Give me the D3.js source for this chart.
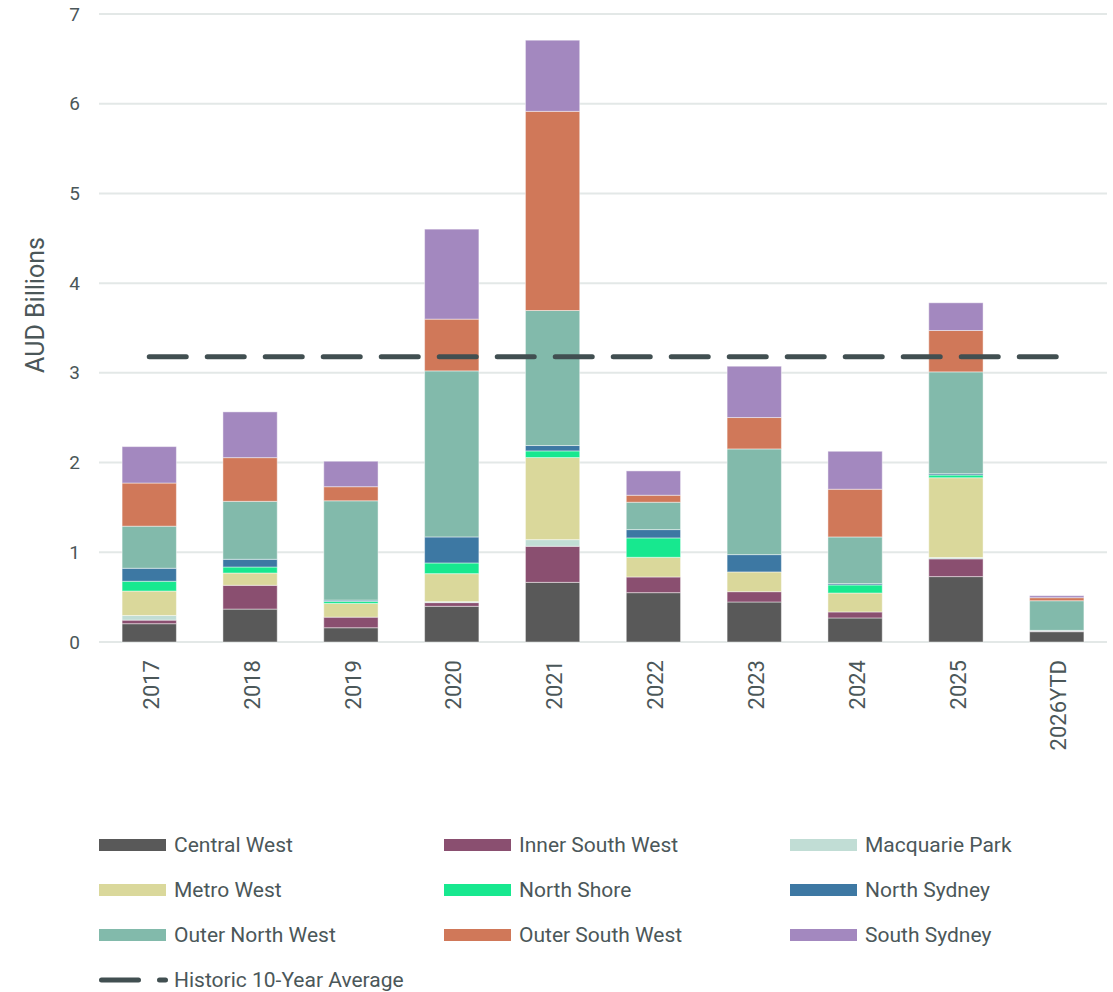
<!DOCTYPE html>
<html>
<head>
<meta charset="utf-8">
<script src="https://cdn.jsdelivr.net/npm/d3@7"></script>
<style>
  html, body { margin: 0; padding: 0; background: #fff; }
  svg { display: block; font-family: Roboto, "Noto Sans", sans-serif; }
</style>
</head>
<body>
<svg id="chart" width="1113" height="992"></svg>
<script>
const years = ["2017","2018","2019","2020","2021","2022","2023","2024","2025","2026YTD"];
const seriesNames = ["Central West","Inner South West","Macquarie Park","Metro West","North Shore","North Sydney","Outer North West","Outer South West","South Sydney"];
const seriesColors = ["#595959","#8a4f70","#c1ddd5","#dad89b","#17e88f","#3d78a3","#82baab","#d07859","#a388bf"];
const centralWest    = [0.204,0.367,0.159,0.398,0.665,0.550,0.446,0.268,0.729,0.115];
const innerSouthWest = [0.040,0.265,0.118,0.041,0.402,0.175,0.115,0.067,0.198,0.005];
const macquariePark  = [0.052,0.000,0.000,0.011,0.074,0.000,0.000,0.000,0.015,0.010];
const metroWest      = [0.272,0.137,0.153,0.312,0.915,0.219,0.220,0.211,0.889,0.000];
const northShore     = [0.109,0.067,0.023,0.119,0.074,0.216,0.000,0.090,0.030,0.000];
const northSydney    = [0.145,0.086,0.014,0.290,0.060,0.093,0.193,0.015,0.015,0.000];
const outerNorthWest = [0.469,0.646,1.107,1.851,1.505,0.305,1.178,0.520,1.135,0.330];
const outerSouthWest = [0.481,0.487,0.157,0.577,2.220,0.078,0.350,0.532,0.461,0.034];
const southSydney    = [0.406,0.510,0.284,1.003,0.793,0.271,0.572,0.423,0.309,0.022];
const historicAverage = 3.18;
const historicLabel = "Historic 10-Year Average";
const yTicks = [0,1,2,3,4,5,6,7];
const yTitle = "AUD Billions";

const seriesValues = [centralWest,innerSouthWest,macquariePark,metroWest,northShore,northSydney,outerNorthWest,outerSouthWest,southSydney];
const table = years.map((y, i) => {
  const row = { year: y };
  seriesNames.forEach((s, k) => row[s] = seriesValues[k][i]);
  return row;
});

const svg = d3.select("#chart");
const textColor = "#4b5759";
const lineColor = "#414f51";

const x = d3.scaleBand().domain(years).range([99, 1107]).paddingInner(0.4615).paddingOuter(0.229);
const y = d3.scaleLinear().domain([0, 7]).range([642, 14]);

// gridlines
svg.append("g").selectAll("line").data(yTicks).join("line")
  .attr("x1", 99).attr("x2", 1107)
  .attr("y1", d => y(d)).attr("y2", d => y(d))
  .attr("stroke", "#e3e8e7").attr("stroke-width", 2);

// y axis labels
const yAxis = d3.axisLeft(y).tickValues(yTicks).tickSize(0).tickPadding(0).tickFormat(d3.format("d"));
const yg = svg.append("g").attr("transform", "translate(80,0)").call(yAxis);
yg.select(".domain").remove();
yg.selectAll("text").attr("fill", textColor).style("font-size", "19px").style("font-family", "Roboto, sans-serif");

// y title
svg.append("text")
  .attr("transform", "translate(44,305) rotate(-90)")
  .attr("text-anchor", "middle")
  .attr("fill", textColor)
  .style("font-size", "25px")
  .text(yTitle);

// stacked bars
const stack = d3.stack().keys(seriesNames);
const stacked = stack(table);
svg.append("g").selectAll("g").data(stacked).join("g")
  .attr("fill", (d, i) => seriesColors[i])
  .selectAll("rect").data(d => d).join("rect")
  .attr("x", d => x(d.data.year))
  .attr("width", x.bandwidth())
  .attr("y", d => y(d[1]))
  .attr("height", d => Math.max(0, y(d[0]) - y(d[1])))
  .attr("stroke", "rgba(255,255,255,0.45)")
  .attr("stroke-width", 1);

// historic average line
const avgLine = d3.line().x(d => x(d) + x.bandwidth() / 2).y(() => y(historicAverage));
svg.append("path")
  .datum([years[0], years[years.length - 1]])
  .attr("d", avgLine)
  .attr("fill", "none")
  .attr("stroke", lineColor)
  .attr("stroke-width", 5)
  .attr("stroke-linecap", "round")
  .attr("stroke-dasharray", "37,21");

// x axis labels
const xAxis = d3.axisBottom(x).tickSize(0).tickPadding(0);
const xg = svg.append("g").attr("transform", "translate(0,642)").call(xAxis);
xg.select(".domain").remove();
xg.selectAll("text")
  .attr("transform", "rotate(-90)")
  .attr("x", -18).attr("y", 2).attr("dy", "0.35em")
  .attr("text-anchor", "end")
  .attr("fill", textColor)
  .style("font-size", "22px")
  .style("font-family", "Roboto, sans-serif");

// legend
const legendCols = [99, 444, 790];
const legendRows = [845, 890, 935, 980];
const leg = svg.append("g");
seriesNames.forEach((s, i) => {
  const cx = legendCols[i % 3], cy = legendRows[Math.floor(i / 3)];
  leg.append("rect").attr("x", cx).attr("y", cy - 6).attr("width", 67).attr("height", 12).attr("fill", seriesColors[i]);
  leg.append("text").attr("x", cx + 75).attr("y", cy).attr("dy", "0.35em")
    .attr("fill", textColor).style("font-size", "21px").text(s);
});
const lr = legendRows[3];
leg.append("line").attr("x1", 101.5).attr("x2", 165.5).attr("y1", lr).attr("y2", lr)
  .attr("stroke", lineColor).attr("stroke-width", 5).attr("stroke-linecap", "round").attr("stroke-dasharray", "37,21");
leg.append("text").attr("x", 174).attr("y", lr).attr("dy", "0.35em")
  .attr("fill", textColor).style("font-size", "21px").text(historicLabel);
</script>
</body>
</html>
